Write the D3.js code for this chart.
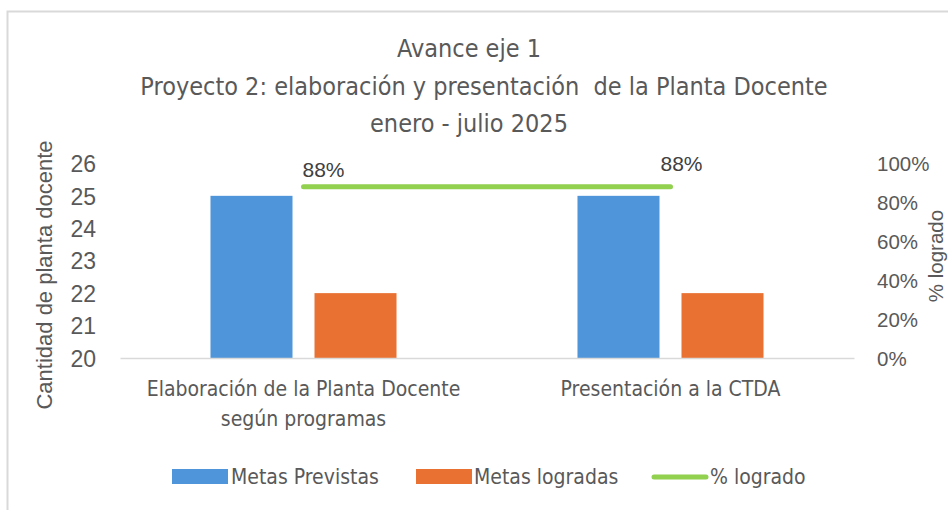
<!DOCTYPE html>
<html>
<head>
<meta charset="utf-8">
<script src="https://cdn.jsdelivr.net/npm/d3@7"></script>
<style>
  html, body { margin: 0; padding: 0; background: #fff; }
  svg { display: block; }
</style>
</head>
<body>
<svg id="chart" width="948" height="510"></svg>
<script>
// ---- data ----
const titleLines = ["Avance eje 1", "Proyecto 2: elaboración y presentación  de la Planta Docente", "enero - julio 2025"];
const categories = ["Elaboración de la Planta Docente según programas", "Presentación a la CTDA"];
const categoryLines = [["Elaboración de la Planta Docente", "según programas"], ["Presentación a la CTDA"]];
const seriesNames = ["Metas Previstas", "Metas logradas", "% logrado"];
const metasPrevistas = [25, 25];
const metasLogradas = [22, 22];
const pctLogrado = [0.88, 0.88];
const leftTicks = [20, 21, 22, 23, 24, 25, 26];
const rightTicks = [0, 0.2, 0.4, 0.6, 0.8, 1.0];
const leftTitle = "Cantidad de planta docente";
const rightTitle = "% logrado";

// ---- styles ----
const colBlue = "#4f95d9", colOrange = "#e97132", colGreen = "#92d050";
const textCol = "#595959";
const narrow = "'Liberation Sans Narrow', 'DejaVu Sans Condensed', 'Liberation Sans', sans-serif";
const sans = "'Liberation Sans', Arial, sans-serif";

const svg = d3.select("#chart");

// chart border
svg.append("rect").attr("x", 7.5).attr("y", 11.5).attr("width", 960).attr("height", 520)
  .attr("fill", "none").attr("stroke", "#d9d9d9").attr("stroke-width", 2);

// title
const titleY = [57, 95, 132];
const titleX = [469, 484, 469];
svg.append("g").selectAll("text").data(titleLines).join("text")
  .attr("x", (d, i) => titleX[i]).attr("y", (d, i) => titleY[i])
  .attr("text-anchor", "middle").attr("fill", textCol)
  .style("font-family", narrow).style("font-size", "25px")
  .style("white-space", "pre")
  .text(d => d);

// scales
const x0 = 120, x1 = 854, yBase = 358, yTop = 163.4;
const x = d3.scaleBand().domain(categories).range([x0, x1]).paddingInner(0).paddingOuter(0);
const xs = d3.scaleBand().domain(["prev", "log"]).range([0, x.bandwidth()])
  .paddingInner(22 / 104).paddingOuter(0.87);
const y = d3.scaleLinear().domain([20, 26]).range([yBase, yTop]);
const y2 = d3.scaleLinear().domain([0, 1]).range([yBase, yTop]);

// bars
const g = svg.append("g");
g.selectAll("rect.prev").data(metasPrevistas).join("rect").attr("class", "prev")
  .attr("x", (d, i) => x(categories[i]) + xs("prev")).attr("width", xs.bandwidth())
  .attr("y", d => y(d)).attr("height", d => yBase - y(d)).attr("fill", colBlue);
g.selectAll("rect.log").data(metasLogradas).join("rect").attr("class", "log")
  .attr("x", (d, i) => x(categories[i]) + xs("log")).attr("width", xs.bandwidth())
  .attr("y", d => y(d)).attr("height", d => yBase - y(d)).attr("fill", colOrange);

// baseline axis
const xAxis = d3.axisBottom(x).tickSize(0).tickFormat("");
const xg = svg.append("g").attr("transform", `translate(0,${yBase})`).call(xAxis);
xg.select(".domain").attr("stroke", "#d9d9d9").attr("stroke-width", 1.5);

// category labels
categoryLines.forEach((lines, i) => {
  svg.append("g").selectAll("text").data(lines).join("text")
    .attr("x", x(categories[i]) + x.bandwidth() / 2)
    .attr("y", (d, j) => 396 + j * 30)
    .attr("text-anchor", "middle").attr("fill", textCol)
    .style("font-family", narrow).style("font-size", "21px")
    .text(d => d);
});

// left axis
const yAxis = d3.axisLeft(y).tickValues(leftTicks).tickSize(0).tickPadding(0).tickFormat(d3.format("d"));
const yg = svg.append("g").attr("transform", `translate(96,0)`).call(yAxis);
yg.select(".domain").remove();
yg.selectAll("text").attr("fill", textCol).style("font-family", sans).style("font-size", "23px").attr("dy", "0.36em");

// right axis
const y2Axis = d3.axisRight(y2).tickValues(rightTicks).tickSize(0).tickPadding(0).tickFormat(d3.format(".0%"));
const y2g = svg.append("g").attr("transform", `translate(877,0)`).call(y2Axis);
y2g.select(".domain").remove();
y2g.selectAll("text").attr("fill", textCol).style("font-family", sans).style("font-size", "20.5px").attr("dy", "0.36em");

// axis titles
svg.append("text").attr("transform", "translate(52,275) rotate(-90)")
  .attr("text-anchor", "middle").attr("fill", textCol)
  .style("font-family", sans).style("font-size", "22px").text(leftTitle);
svg.append("text").attr("transform", "translate(943,256) rotate(-90)")
  .attr("text-anchor", "middle").attr("fill", textCol)
  .style("font-family", sans).style("font-size", "20.5px").text(rightTitle);

// line series
const cx = (i) => x(categories[i]) + x.bandwidth() / 2;
const line = d3.line().x((d, i) => cx(i)).y(d => y2(d));
svg.append("path").datum(pctLogrado).attr("d", line)
  .attr("fill", "none").attr("stroke", colGreen).attr("stroke-width", 5).attr("stroke-linecap", "round");

// line labels
const labOff = [[-1, -10], [-10, -16]];
svg.append("g").selectAll("text").data(pctLogrado).join("text")
  .attr("x", (d, i) => cx(i) + labOff[i][0]).attr("y", (d, i) => y2(d) + labOff[i][1])
  .attr("fill", "#404040").style("font-family", sans).style("font-size", "21px")
  .text(d => d3.format(".0%")(d));

// legend
const legend = svg.append("g");
const legX = [172, 416, 652];
const legTextX = [231, 474, 710];
legend.append("rect").attr("x", legX[0]).attr("y", 469).attr("width", 56).attr("height", 15).attr("fill", colBlue);
legend.append("rect").attr("x", legX[1]).attr("y", 469).attr("width", 56).attr("height", 15).attr("fill", colOrange);
legend.append("line").attr("x1", legX[2] + 2).attr("x2", legX[2] + 54).attr("y1", 477).attr("y2", 477)
  .attr("stroke", colGreen).attr("stroke-width", 5).attr("stroke-linecap", "round");
legend.selectAll("text").data(seriesNames).join("text")
  .attr("x", (d, i) => legTextX[i]).attr("y", 484)
  .attr("fill", textCol).style("font-family", narrow).style("font-size", "21px")
  .text(d => d);
</script>
</body>
</html>
